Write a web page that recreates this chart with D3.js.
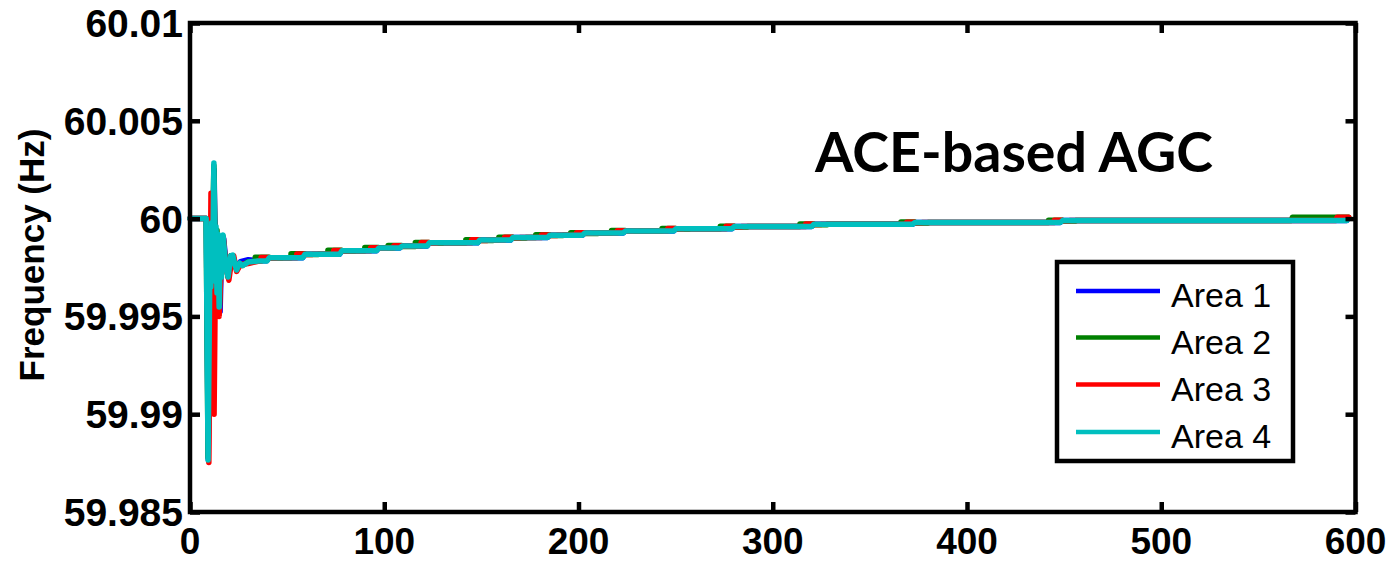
<!DOCTYPE html>
<html>
<head>
<meta charset="utf-8">
<script src="https://cdn.jsdelivr.net/npm/d3@7"></script>
<style>
  body { margin: 0; background: #fff; }
  svg text { font-family: "Liberation Sans", Arial, sans-serif; }
</style>
</head>
<body>
<div class="chart"></div>
<script>
// tick values
var xTicks = [0, 100, 200, 300, 400, 500, 600]
var yTicks = [59.985, 59.99, 59.995, 60, 60.005, 60.01]
var yTickLabels = ["59.985", "59.99", "59.995", "60", "60.005", "60.01"]

var seriesNames = ["Area 1", "Area 2", "Area 3", "Area 4"]
var seriesColors = ["#0000ff", "#008000", "#ff0000", "#00bfbf"]

// transient part of each area [time s, frequency Hz]
var area1Start = [[0, 60], [8.4, 60], [9.4, 59.9877], [10.5, 59.998], [11.2, 59.9965], [12.4, 60.0025],
  [13.2, 59.9968], [14.0, 59.999], [15.5, 59.99525], [16.3, 59.9985], [17.3, 59.999], [18.5, 59.9978],
  [19.8, 59.9971], [21.2, 59.9981], [22.3, 59.998], [24.3, 59.9974], [26, 59.9978], [30, 59.9979], [35, 59.99785]]
var area2Start = [[0, 60], [8.3, 60], [9.3, 59.9878], [10.4, 59.9978], [11.0, 59.9962], [12.3, 60.0027],
  [13.3, 59.9963], [13.9, 59.9994], [14.6, 59.9958], [15.2, 59.9956], [16, 59.9985], [17, 59.9991],
  [18.2, 59.9978], [19.6, 59.997], [21, 59.9981], [22, 59.9981], [23, 59.9977], [24, 59.9974],
  [25.5, 59.9977], [27, 59.9976], [30, 59.9978], [35, 59.99783]]
var area3Start = [[0, 60], [8.6, 60], [9.7, 59.98753], [10.8, 60.0013], [11.6, 59.9975], [12.4, 59.99],
  [13.2, 59.9985], [14.0, 59.9968], [15.0, 59.995], [16, 59.9975], [17.2, 59.999], [18.5, 59.9975],
  [20, 59.99685], [21.5, 59.9979], [22.5, 59.9981], [24, 59.9973], [26, 59.99765], [30, 59.9977], [35, 59.99782]]
var area4Start = [[0, 60], [8.3, 60], [9.3, 59.98766], [10.3, 59.9985], [10.7, 59.9965], [11.2, 59.9998],
  [11.6, 59.9968], [12.3, 60.00284], [12.9, 59.997], [13.4, 59.9996], [13.9, 59.9962], [14.4, 59.9992],
  [15.0, 59.99548], [15.6, 59.9988], [16.2, 59.997], [17.0, 59.99916], [18.2, 59.9978], [19.6, 59.99701],
  [21.0, 59.9981], [22.0, 59.99814], [23.0, 59.9977], [24.0, 59.99737], [25.5, 59.99773], [27, 59.9976],
  [30, 59.99778], [35, 59.99783]]

// slow recovery: step times and the level held after each step
var stepTimes = [39.6, 58, 77, 96, 108, 122, 148, 165, 184, 202, 223, 249, 279, 320, 372, 448]
var stepLevels = [59.998, 59.99818, 59.99836, 59.9985, 59.9986, 59.99876, 59.9989, 59.99903, 59.99915,
  59.99926, 59.99937, 59.99948, 59.99959, 59.99971, 59.9998, 59.9999]
// late steps of areas 2 and 3 near the end
var area2Late = [[567, 60.00007], [596, 60.00007]]
var area3Late = [[590, 60.00007], [596, 60.00007]]
var endTime = 595.5

document.addEventListener("DOMContentLoaded", drawChart)

function drawChart() {
  var width = 1389,
    height = 561,
    left = 190, right = 1355.5, top = 23, bottom = 512

  var svg = d3.select(".chart").append("svg")
    .attr("width", width)
    .attr("height", height)

  var x = d3.scaleLinear().domain([0, 600]).range([left, right]),
    y = d3.scaleLinear().domain([59.985, 60.01]).range([bottom, top])

  // build the staircase after the transient, lead = how early the series steps,
  // wob = small over/undershoot at each step
  function stairs(start, lead, wob, late) {
    var pts = start.slice()
    var prev = start[start.length - 1][1]
    stepTimes.forEach((t, i) => {
      var v = stepLevels[i]
      if (wob) {
        pts.push([t - lead, prev], [t - lead, v + wob], [t + 1, v + wob], [t + 1, v - wob], [t + lead + 2, v - wob], [t + lead + 2, v])
      } else {
        pts.push([t, prev], [t + 1.2, v])
      }
      prev = v
    })
    if (late) {
      late.forEach(p => { pts.push([p[0], prev], [p[0] + 0.5, p[1]]); prev = p[1] })
    }
    pts.push([endTime, prev])
    return pts
  }

  var series = [
    stairs(area1Start, 0, 0),
    stairs(area2Start, 6, 0.00002, area2Late),
    stairs(area3Start, 3, 0.000015, area3Late),
    stairs(area4Start, 0, 0)
  ]

  var line = d3.line()
    .x(d => x(d[0]))
    .y(d => y(d[1]))

  svg.append("g")
    .selectAll("path")
    .data(series)
    .enter().append("path")
    .attr("d", line)
    .attr("fill", "none")
    .attr("stroke", (d, i) => seriesColors[i])
    .attr("stroke-width", 5.5)
    .attr("stroke-linejoin", "round")
    .attr("stroke-linecap", "round")

  // axes with inward ticks on all four sides
  var tick = 10
  var axes = [
    d3.axisBottom(x).tickValues(xTicks).tickSize(-tick).tickFormat(""),
    d3.axisTop(x).tickValues(xTicks).tickSize(-tick).tickFormat(""),
    d3.axisLeft(y).tickValues(yTicks).tickSize(-tick).tickFormat(""),
    d3.axisRight(y).tickValues(yTicks).tickSize(-tick).tickFormat("")
  ]
  var where = [[0, bottom], [0, top], [left, 0], [right, 0]]
  axes.forEach((ax, i) => {
    var g = svg.append("g")
      .attr("transform", `translate(${where[i][0]},${where[i][1]})`)
      .call(ax)
    g.select(".domain").remove()
    g.selectAll("line").attr("stroke", "#000").attr("stroke-width", 4.5)
  })

  svg.append("rect")
    .attr("x", left).attr("y", top)
    .attr("width", right - left).attr("height", bottom - top)
    .attr("fill", "none")
    .attr("stroke", "#000")
    .attr("stroke-width", 4.5)

  // tick labels
  svg.append("g").selectAll("text")
    .data(xTicks)
    .enter().append("text")
    .attr("x", d => x(d))
    .attr("y", 554)
    .attr("text-anchor", "middle")
    .attr("font-size", 37)
    .attr("font-weight", "bold")
    .text(d => d)

  svg.append("g").selectAll("text")
    .data(yTicks)
    .enter().append("text")
    .attr("x", 183)
    .attr("y", d => y(d))
    .attr("dy", "0.36em")
    .attr("text-anchor", "end")
    .attr("font-size", 39)
    .attr("font-weight", "bold")
    .text((d, i) => yTickLabels[i])

  svg.append("text")
    .attr("transform", "translate(44,255) rotate(-90)")
    .attr("text-anchor", "middle")
    .attr("font-size", 35)
    .attr("font-weight", "bold")
    .text("Frequency (Hz)")

  svg.append("text")
    .attr("x", 815)
    .attr("y", 172)
    .style("font-family", "Lato, 'Open Sans', sans-serif")
    .attr("font-size", 56)
    .attr("font-weight", "bold")
    .attr("textLength", 398)
    .attr("lengthAdjust", "spacingAndGlyphs")
    .text("ACE-based AGC")

  // legend
  var legend = svg.append("g")
  legend.append("rect")
    .attr("x", 1057).attr("y", 262)
    .attr("width", 236).attr("height", 199)
    .attr("fill", "#fff")
    .attr("stroke", "#000")
    .attr("stroke-width", 4.5)

  var rowY = [291, 337.5, 384.5, 432]
  var items = legend.selectAll("g.item")
    .data(seriesNames)
    .enter().append("g")
    .attr("class", "item")
    .attr("transform", (d, i) => `translate(0,${rowY[i]})`)
  items.append("line")
    .attr("x1", 1076).attr("x2", 1160)
    .attr("stroke", (d, i) => seriesColors[i])
    .attr("stroke-width", 4.5)
  items.append("text")
    .attr("x", 1171)
    .attr("y", 16)
    .attr("font-size", 34)
    .text(d => d)
}
</script>
</body>
</html>
